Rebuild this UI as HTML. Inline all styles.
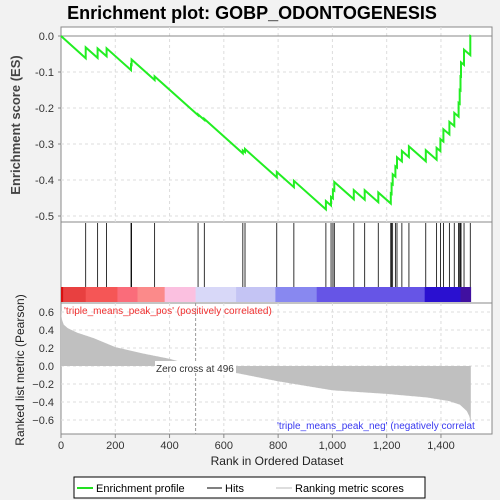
<!DOCTYPE html>
<html><head><meta charset="utf-8"><style>
body{margin:0;background:#f2f2f2;}
svg{display:block;font-family:"Liberation Sans",sans-serif;}
</style></head><body>
<svg id="c" width="500" height="500" viewBox="0 0 500 500">
<text x="252" y="19" text-anchor="middle" font-size="18" font-weight="bold" fill="#000">Enrichment plot: GOBP_ODONTOGENESIS</text>
<rect x="61" y="27" width="431" height="195" fill="#fff" stroke="#888"/>
<rect x="61" y="222" width="431" height="81" fill="#fff" stroke="#888"/>
<rect x="61" y="303" width="431" height="131" fill="#fff" stroke="#888"/>
<g id="grid"></g>
<g id="bar"></g>
<g id="hits"></g>
<g id="metric"></g>
<g id="es"></g>
<g id="axes"></g>
<text x="20" y="125" transform="rotate(-90 20 125)" text-anchor="middle" font-size="13" font-weight="bold" fill="#444">Enrichment score (ES)</text>
<text x="24" y="370" transform="rotate(-90 24 370)" text-anchor="middle" font-size="12" fill="#222">Ranked list metric (Pearson)</text>
<text x="277" y="465" text-anchor="middle" font-size="12" fill="#222">Rank in Ordered Dataset</text>
<text x="64" y="314" font-size="10" fill="#f03030">'triple_means_peak_pos' (positively correlated)</text>
<text x="277" y="429" font-size="10" fill="#3a3af0">'triple_means_peak_neg' (negatively correlat</text>
<g>
<rect x="74" y="477" width="351" height="21" fill="#fff" stroke="#000"/>
<line x1="77" y1="488" x2="93" y2="488" stroke="#22e022" stroke-width="2"/>
<text x="96" y="492" font-size="11">Enrichment profile</text>
<line x1="207" y1="488" x2="222" y2="488" stroke="#000"/>
<text x="225" y="492" font-size="11">Hits</text>
<line x1="276" y1="488" x2="292" y2="488" stroke="#bbb"/>
<text x="295" y="492" font-size="11">Ranking metric scores</text>
</g>
</svg>
<script>
const hitRanks=[91,135,168,258,260,345,505,528,670,678,795,858,976,995,1002,1007,1079,1119,1169,1215,1218,1222,1232,1238,1256,1282,1344,1384,1398,1409,1431,1449,1465,1469,1472,1474,1485,1508];
const metricRanks=[0,3,10,25,60,120,200,300,400,496,497,650,800,1000,1200,1350,1430,1470,1495,1505,1510];
const metricValues=[0.62,0.52,0.46,0.42,0.37,0.31,0.21,0.14,0.08,0.0,-0.02,-0.08,-0.17,-0.27,-0.31,-0.35,-0.39,-0.43,-0.5,-0.56,-0.63];
const esTicks=[0,-0.1,-0.2,-0.3,-0.4,-0.5];
const metricTicks=[0.6,0.4,0.2,0,-0.2,-0.4,-0.6];
const xTicks=[0,200,400,600,800,1000,1200,1400];
const xTickLabels=['0','200','400','600','800','1,000','1,200','1,400'];
const N=1510;
const NS='http://www.w3.org/2000/svg';
const xS=r=>61+r*0.2714;
const yES=v=>36-v*360;
const yM=v=>366-v*90;
function mk(t,a,p){const e=document.createElementNS(NS,t);for(const k in a)e.setAttribute(k,a[k]);document.getElementById(p).appendChild(e);return e;}
function metricAt(r){for(let i=1;i<metricRanks.length;i++){if(r<=metricRanks[i]){const a=metricRanks[i-1],b=metricRanks[i];return metricValues[i-1]+(metricValues[i]-metricValues[i-1])*(r-a)/(b-a);}}return metricValues[metricValues.length-1];}
// grid
xTicks.forEach(t=>{if(t===0)return;[[27,222],[303,434]].forEach(([a,b])=>{const l=mk('line',{x1:xS(t),x2:xS(t),y1:a,y2:b,stroke:'#ddd','stroke-dasharray':'3,3'},'grid');});});
esTicks.forEach(t=>{const l=mk('line',{x1:61,x2:492,y1:yES(t),y2:yES(t),stroke:t===0?'#888':'#ddd','stroke-dasharray':t===0?'':'3,3'},'grid');});
metricTicks.forEach(t=>{const l=mk('line',{x1:61,x2:492,y1:yM(t),y2:yM(t),stroke:'#ddd','stroke-dasharray':'3,3'},'grid');});
// color bar
const barSegs=[[0,8,'#d81010'],[8,91,'#e84040'],[91,208,'#f55656'],[208,282,'#fa6c7a'],[282,382,'#fb8a8a'],[382,496,'#fbc0e0'],[496,645,'#d8d8f8'],[645,790,'#c4c4f4'],[790,942,'#8888f0'],[942,1340,'#6655e6'],[1340,1472,'#2a10d0'],[1472,1510,'#4010a0']];
barSegs.forEach(s=>{const r=mk('rect',{x:xS(s[0]),y:287,width:xS(s[1])-xS(s[0])+0.3,height:15,fill:s[2]},'bar');});
// metric area
let d='M'+xS(0)+','+yM(0);
for(let r=0;r<=N;r+=2){d+='L'+xS(r).toFixed(1)+','+yM(metricAt(r)).toFixed(1);}
d+='L'+xS(N)+','+yM(0)+'Z';
const ma=mk('path',{d:d,fill:'#c0c0c0'},'metric');
const zl=mk('line',{x1:xS(496),x2:xS(496),y1:303,y2:434,stroke:'#999','stroke-dasharray':'3,2'},'metric');
const zb=mk('rect',{x:155,y:361,width:81,height:12,fill:'#fff'},'metric');
const zt=mk('text',{x:156,y:372,'font-size':'10',fill:'#333'},'metric');zt.textContent='Zero cross at 496';
// hits
hitRanks.forEach(h=>{const l=mk('line',{x1:xS(h),x2:xS(h),y1:223,y2:287,stroke:'#000','stroke-width':0.8},'hits');});
// ES
const hitSet=new Set(hitRanks);let sumW=0;hitRanks.forEach(h=>sumW+=Math.abs(metricAt(h)));
const miss=1/(N-hitRanks.length);let es=0;let pts=[[0,0]];
for(let r=0;r<N;r++){if(hitSet.has(r)){pts.push([r,es]);es+=Math.abs(metricAt(r))/sumW;pts.push([r,es]);}else es-=miss;}
pts.push([N,es]);
const ep=mk('polyline',{points:pts.map(p=>xS(p[0]).toFixed(1)+','+yES(p[1]).toFixed(1)).join(' '),fill:'none',stroke:'#22ee22','stroke-width':2},'es');
// axes
esTicks.forEach(t=>{const x=mk('text',{x:54,y:yES(t)+4,'text-anchor':'end','font-size':'11',fill:'#333'},'axes');x.textContent=t.toFixed(1);mk('line',{x1:58,x2:61,y1:yES(t),y2:yES(t),stroke:'#888'},'axes');});
metricTicks.forEach(t=>{const x=mk('text',{x:54,y:yM(t)+4,'text-anchor':'end','font-size':'11',fill:'#333'},'axes');x.textContent=(t<0?'−':'')+Math.abs(t).toFixed(1);});
xTicks.forEach((t,i)=>{mk('line',{x1:xS(t),x2:xS(t),y1:434,y2:438,stroke:'#888'},'axes');const x=mk('text',{x:xS(t),y:449,'text-anchor':'middle','font-size':'11',fill:'#333'},'axes');x.textContent=xTickLabels[i];});
</script>
</body></html>
